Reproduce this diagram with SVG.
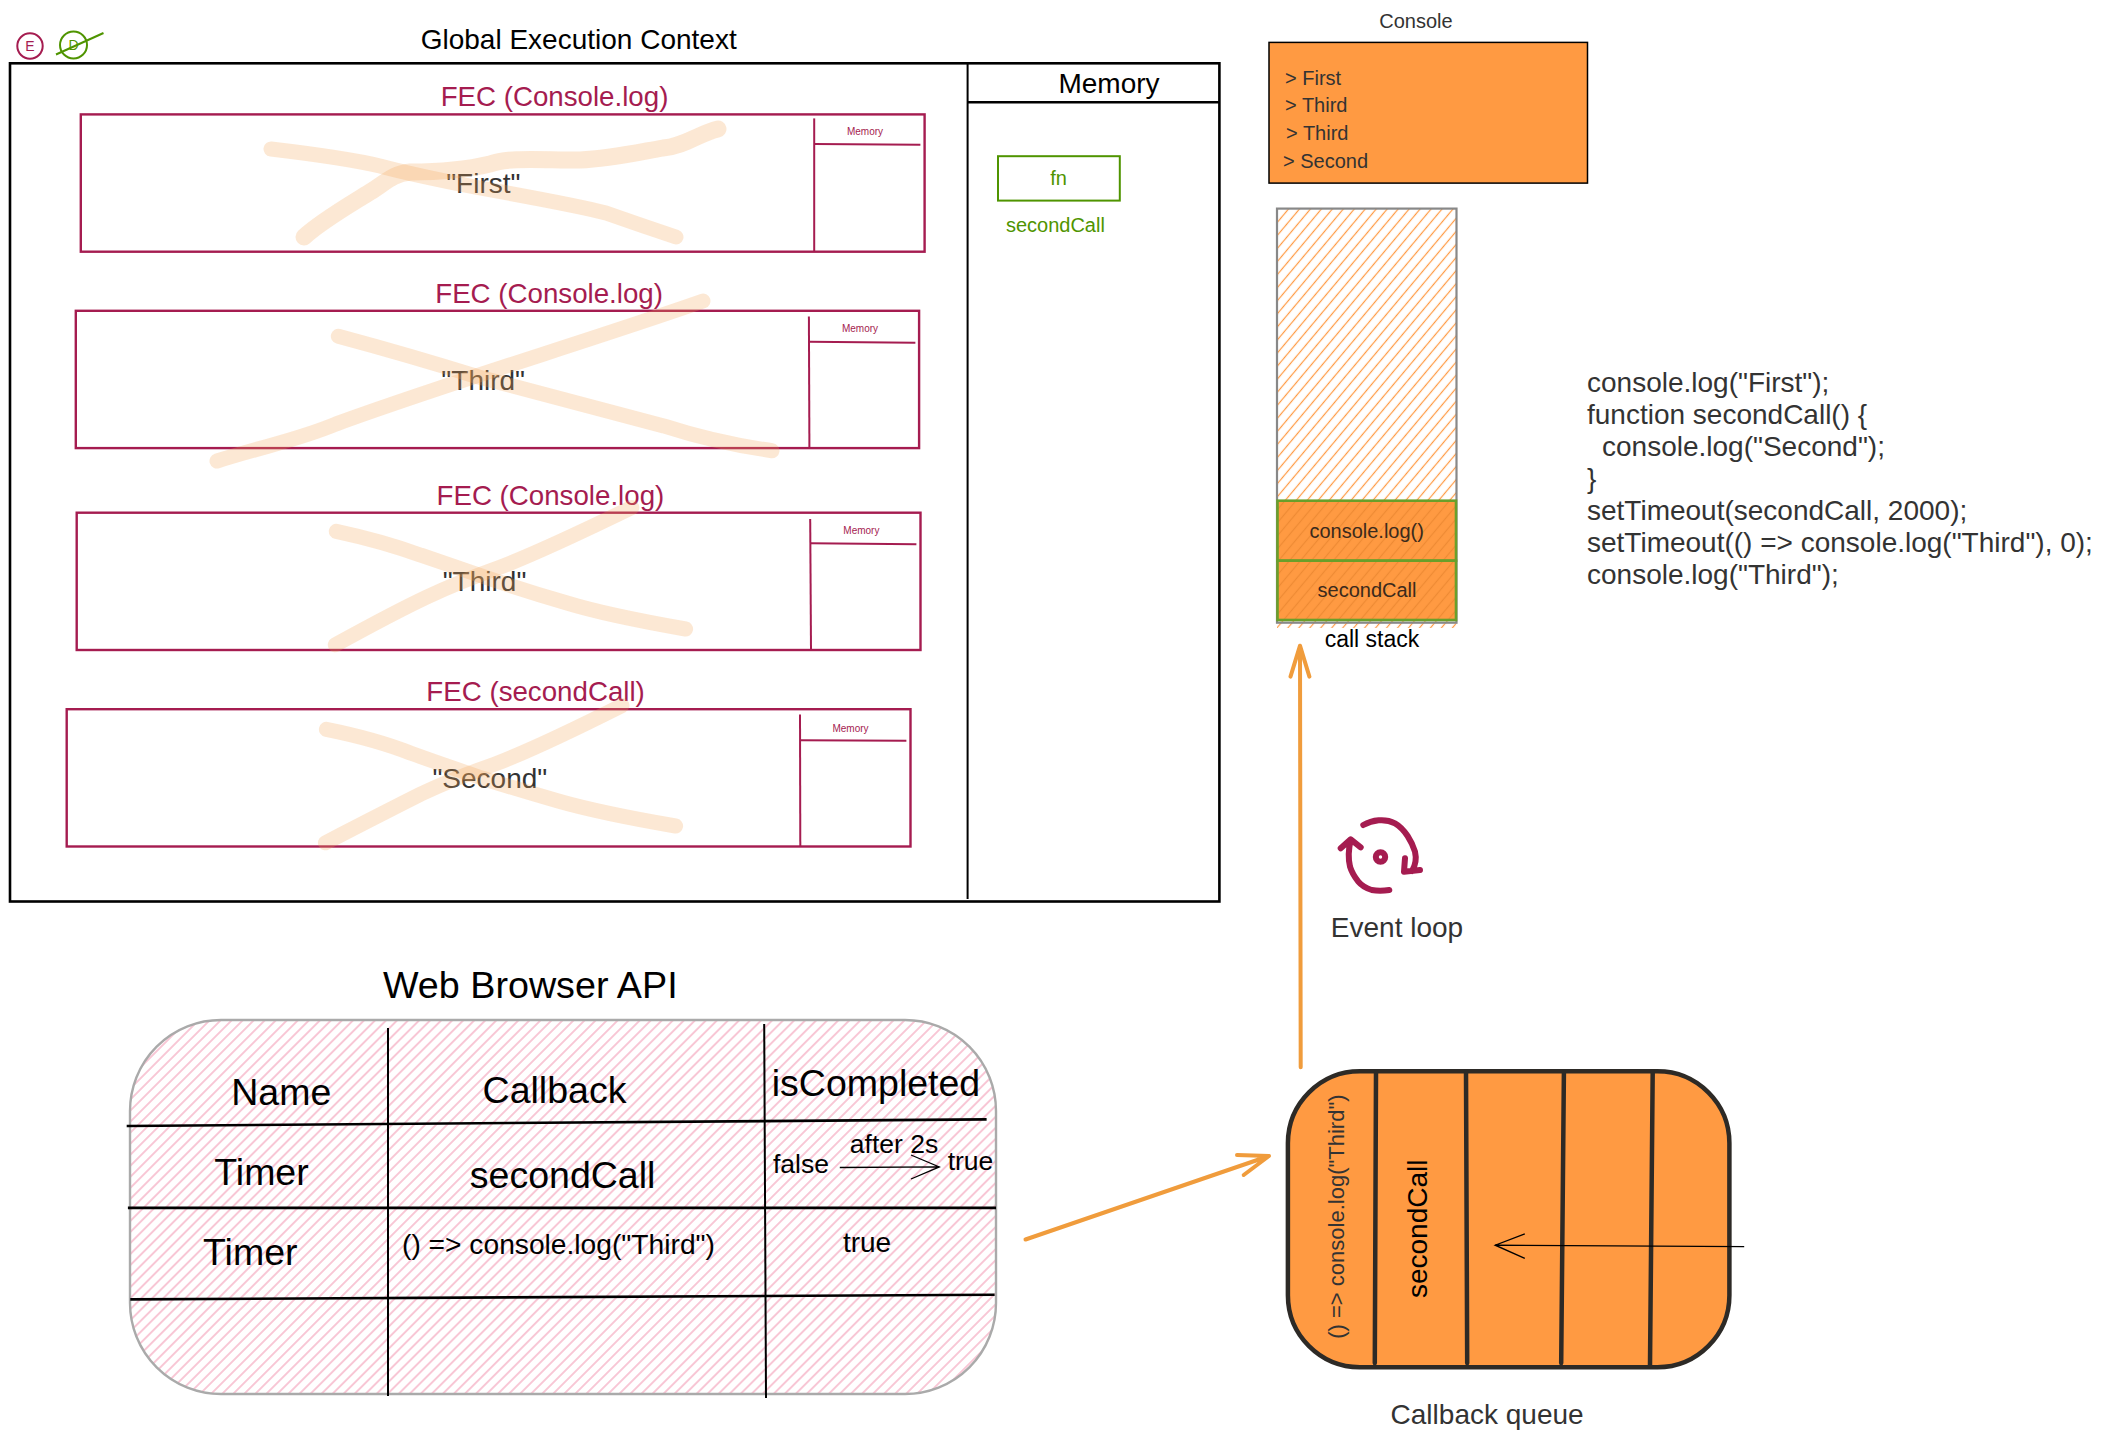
<svg xmlns="http://www.w3.org/2000/svg" width="2110" height="1440" viewBox="0 0 2110 1440">
<defs>
<pattern id="hatchO" width="8.4" height="8.4" patternUnits="userSpaceOnUse" patternTransform="rotate(40)"><rect width="8.4" height="8.4" fill="#fff"/><line x1="4.2" y1="0" x2="4.2" y2="8.4" stroke="#ff9a42" stroke-width="1.2"/></pattern>
<pattern id="hatchO2" width="8.4" height="8.4" patternUnits="userSpaceOnUse" patternTransform="rotate(40)"><rect width="8.4" height="8.4" fill="#ff9a42"/><line x1="4.2" y1="0" x2="4.2" y2="8.4" stroke="#ee8a34" stroke-width="1.2"/></pattern>
<pattern id="hatchP" width="7.8" height="7.8" patternUnits="userSpaceOnUse" patternTransform="rotate(45)"><rect width="7.8" height="7.8" fill="#fff"/><line x1="3.9" y1="0" x2="3.9" y2="7.8" stroke="#f291ae" stroke-width="1"/></pattern>
</defs>
<style>
text{font-family:"Liberation Sans",Arial,sans-serif}
.m{text-anchor:middle}
.t28{font-size:28px}.t20{font-size:20px}.t38{font-size:37.5px}.t26{font-size:26.5px}.t27{font-size:27.7px}
.dk{fill:#333}.bk{fill:#000}.br{fill:#3b2a1c}
.red{fill:#a51c50}
.fr{fill:#fff;stroke:#a51c50;stroke-width:2.4}
.ln{fill:none;stroke:#a51c50;stroke-width:2}
.x{fill:none;stroke:#f2a65a;stroke-opacity:.26;stroke-width:15;stroke-linecap:round;stroke-linejoin:round}
.mem{font-size:10px;fill:#a51c50;text-anchor:middle}
.blk{fill:none;stroke:#000;stroke-width:2.6}
.q{fill:none;stroke:#2d2a26;stroke-width:4.5;stroke-linecap:round}
.org{fill:none;stroke:#f09c3c;stroke-width:4;stroke-linecap:round;stroke-linejoin:round}
.thin{fill:none;stroke:#000;stroke-width:1.3}
.loop{fill:none;stroke:#a51c50;stroke-width:6;stroke-linecap:round;stroke-linejoin:round}
.grn{fill:#4f9400}
</style>
<g id="legend">
<circle cx="30" cy="46" r="12.7" fill="#fff" stroke="#a51c50" stroke-width="2"/>
<text x="30" y="51" class="m" font-size="14" fill="#a51c50">E</text>
<text x="73.5" y="50" class="m" font-size="14" fill="#4f9400">D</text>
<circle cx="73.5" cy="45" r="13.5" fill="none" stroke="#4f9400" stroke-width="2"/>
<line x1="56" y1="54.5" x2="103.5" y2="33" stroke="#4f9400" stroke-width="2"/>
</g>
<g id="global-context">
<text x="578.7" y="48.8" class="m t28 bk">Global Execution Context</text>
<rect x="10" y="63.3" width="1209.4" height="838.2" fill="#fff" stroke="#000" stroke-width="2.6"/>
<line x1="967.6" y1="63.3" x2="967.6" y2="899" stroke="#000" stroke-width="2"/>
<line x1="967.6" y1="102.3" x2="1219.4" y2="102.3" stroke="#000" stroke-width="2.6"/>
<text x="1109" y="92.5" class="m t28 bk">Memory</text>
</g>
<g id="memory-fn">
<rect x="998" y="156.2" width="121.8" height="44.4" fill="#fff" stroke="#4f9400" stroke-width="2"/>
<text x="1058.5" y="184.6" class="m t20 grn">fn</text>
<text x="1055.4" y="231.8" class="m t20 grn">secondCall</text>
</g>
<g id="fec-1">
<text x="554.5" y="106" class="m t27 red">FEC (Console.log)</text>
<rect x="80.8" y="114.4" width="843.8" height="137.3" class="fr"/>
<line x1="814.2" y1="118.4" x2="814.2" y2="251.7" class="ln"/>
<line x1="814.2" y1="144" x2="920.4" y2="144.8" class="ln"/>
<text x="865" y="135.3" class="mem">Memory</text>
<text x="483.3" y="192.7" class="m t28 dk">"First"</text>
<path class="x" d="M271 149Q346.7 158 380 166Q413 175 480 188Q580 206 606 213Q640 225 676 237"/>
<path class="x" style="stroke-width:17" d="M304 237C320 222 346 207 370 192C385 183 392 174 410 172C440 172 465 170 490 164C510 157 540 160 580 160C610 159 640 152 663 148C685 146 700 133 718 129"/>
</g>
<g id="fec-2">
<text x="549.1" y="303" class="m t27 red">FEC (Console.log)</text>
<rect x="75.8" y="310.8" width="843.3" height="137.3" class="fr"/>
<line x1="808.9" y1="316.4" x2="809.4" y2="447.8" class="ln"/>
<line x1="808.9" y1="341.8" x2="915.4" y2="342.8" class="ln"/>
<text x="860" y="332" class="mem">Memory</text>
<text x="483.2" y="389.5" class="m t28 dk">"Third"</text>
<path class="x" d="M338.3 336.3Q408 355 478.6 377Q574 402 663.7 425.9Q716 442.8 772 450.7"/>
<path class="x" d="M217 461C268.7 444.8 298.5 439.8 336.3 423.9C447.8 383 597 338.3 703 301"/>
</g>
<g id="fec-3">
<text x="550.4" y="504.5" class="m t27 red">FEC (Console.log)</text>
<rect x="76.7" y="512.7" width="843.8" height="137.3" class="fr"/>
<line x1="810.2" y1="518.9" x2="811" y2="650" class="ln"/>
<line x1="810.2" y1="543.3" x2="916.4" y2="544.3" class="ln"/>
<text x="861.4" y="534" class="mem">Memory</text>
<text x="484.5" y="591" class="m t28 dk">"Third"</text>
<path class="x" d="M336.3 531.3Q383 541.3 420.9 555.2Q458.7 568 493.5 580Q529.3 592 567 603Q606 615 685.6 629"/>
<path class="x" d="M335.3 644.8Q395 612 426.9 597Q458.7 582 500.5 567Q542.3 551 631.8 507.5"/>
</g>
<g id="fec-4">
<text x="535.6" y="701" class="m t27 red">FEC (secondCall)</text>
<rect x="66.7" y="709.2" width="843.8" height="137.3" class="fr"/>
<line x1="800" y1="714.4" x2="800.3" y2="846.7" class="ln"/>
<line x1="800" y1="740.2" x2="906.4" y2="740.8" class="ln"/>
<text x="850.5" y="731.8" class="mem">Memory</text>
<text x="489.8" y="788" class="m t28 dk">"Second"</text>
<path class="x" d="M326.4 729.3Q376 739.3 411 753.2Q446.8 766 481.6 778Q516.4 789 558.2 801Q600 813 675.6 826"/>
<path class="x" d="M325.4 842.8Q389 810 420.9 794Q452.7 779 494.5 764.2Q535.3 749 622 705.5"/>
</g>
<g id="console">
<text x="1415.9" y="28.4" class="m t20 dk">Console</text>
<rect x="1269" y="42.4" width="318.5" height="140.7" fill="#ff9a42" stroke="#000" stroke-width="1.5"/>
<text x="1285" y="84.5" class="t20 dk">&gt; First</text>
<text x="1285" y="112" class="t20 dk">&gt; Third</text>
<text x="1286" y="140" class="t20 dk">&gt; Third</text>
<text x="1283" y="168" class="t20 dk">&gt; Second</text>
</g>
<g id="call-stack">
<rect x="1277" y="208.6" width="179.5" height="419.4" fill="url(#hatchO)"/>
<rect x="1277" y="208.6" width="179.5" height="414.1" fill="none" stroke="#888" stroke-width="2.2"/>
<rect x="1277.5" y="500.7" width="178.5" height="60" fill="url(#hatchO2)" stroke="#6a9f2a" stroke-width="2.6"/>
<rect x="1277.5" y="560.7" width="178.5" height="59.3" fill="url(#hatchO2)" stroke="#6a9f2a" stroke-width="2.6"/>
<text x="1366.7" y="537.5" class="m t20 br">console.log()</text>
<text x="1367" y="596.7" class="m t20 br">secondCall</text>
<text x="1372" y="646.7" class="m bk" font-size="23">call stack</text>
</g>
<g id="code">
<text x="1587" y="391.5" class="t28 dk">console.log("First");</text>
<text x="1587" y="423.5" class="t28 dk">function secondCall() {</text>
<text x="1602" y="455.5" class="t28 dk">console.log("Second");</text>
<text x="1587" y="488.2" class="t28 dk">}</text>
<text x="1587" y="519.7" class="t28 dk">setTimeout(secondCall, 2000);</text>
<text x="1587" y="551.7" class="t28 dk">setTimeout(() =&gt; console.log("Third"), 0);</text>
<text x="1587" y="583.8" class="t28 dk">console.log("Third");</text>
</g>
<g id="event-loop">
<path class="loop" d="M1363.3 825C1372 820 1385 818 1395 823.3C1405 829 1412 842 1415 851.7C1417 860 1415 866 1412 871M1405 858.3L1404 871.7L1420 870"/>
<path class="loop" d="M1389.3 890C1383 891 1377 891 1371.7 890C1365 888 1361 885 1358.3 881.7C1353 875 1351 870 1350 866.7C1348 858 1348 851 1350.7 840M1340.7 848.3L1350.7 839.3L1360.7 847.3"/>
<circle cx="1380.5" cy="857" r="4.7" fill="none" stroke="#a51c50" stroke-width="6"/>
<text x="1397" y="937" class="m t28 dk">Event loop</text>
</g>
<g id="web-browser-api">
<text x="530.3" y="997.5" class="m bk" font-size="37.7">Web Browser API</text>
<rect x="130" y="1020" width="866" height="374" rx="91" fill="url(#hatchP)" stroke="#aaa" stroke-width="2.4"/>
<line x1="126.7" y1="1126" x2="986.6" y2="1119.4" class="blk"/>
<line x1="127.9" y1="1207.9" x2="996" y2="1207.9" class="blk"/>
<line x1="130.3" y1="1299.4" x2="994.6" y2="1294.8" class="blk"/>
<line x1="388" y1="1028" x2="388" y2="1396" stroke="#000" stroke-width="2"/>
<line x1="764.2" y1="1024" x2="766" y2="1398" stroke="#000" stroke-width="2"/>
<text x="281.3" y="1104.5" class="m t38 bk">Name</text>
<text x="554.5" y="1103" class="m t38 bk">Callback</text>
<text x="876" y="1096" class="m t38 bk">isCompleted</text>
<text x="261.5" y="1185" class="m t38 bk">Timer</text>
<text x="250.3" y="1264.6" class="m t38 bk">Timer</text>
<text x="562.6" y="1188" class="m t38 bk">secondCall</text>
<text x="402" y="1253.7" font-size="28.2" class="bk">() =&gt; console.log("Third")</text>
<text x="867" y="1251.5" class="m t28 bk">true</text>
<text x="801" y="1172.7" class="m t26 bk">false</text>
<text x="894" y="1153" class="m t26 bk">after 2s</text>
<text x="970.5" y="1170" class="m t26 bk">true</text>
<path class="thin" d="M839.8 1167.5L939.3 1166.9M911 1155L939.3 1166.9L911 1179"/>
</g>
<g id="callback-queue">
<rect x="1287.9" y="1071.3" width="441.5" height="296" rx="72" fill="#ff9a42" stroke="#2d2a26" stroke-width="4.5"/>
<line x1="1376" y1="1072.6" x2="1374.8" y2="1363" class="q"/>
<line x1="1466" y1="1071.3" x2="1467.2" y2="1363" class="q"/>
<line x1="1563.9" y1="1072.6" x2="1561.2" y2="1363" class="q"/>
<line x1="1652.7" y1="1071.3" x2="1650" y2="1366" class="q"/>
<text transform="translate(1427 1228.8) rotate(-90)" class="m t28 bk">secondCall</text>
<text transform="translate(1343.5 1216.6) rotate(-90)" class="m dk" font-size="22">() =&gt; console.log("Third")</text>
<text x="1487.1" y="1424" class="m t28 dk">Callback queue</text>
</g>
<g id="connectors">
<path class="org" d="M1300.7 1067.2L1300 645.7M1290.5 676.6L1300 645.7L1309.4 676.6"/>
<path class="org" d="M1025.5 1239.5L1269 1156M1237 1155L1269 1156L1243.7 1175"/>
<path class="thin" d="M1744.2 1246.7L1495.2 1245.2M1524.8 1233.9L1495.2 1245.2L1524.8 1258.3"/>
</g>
</svg>
